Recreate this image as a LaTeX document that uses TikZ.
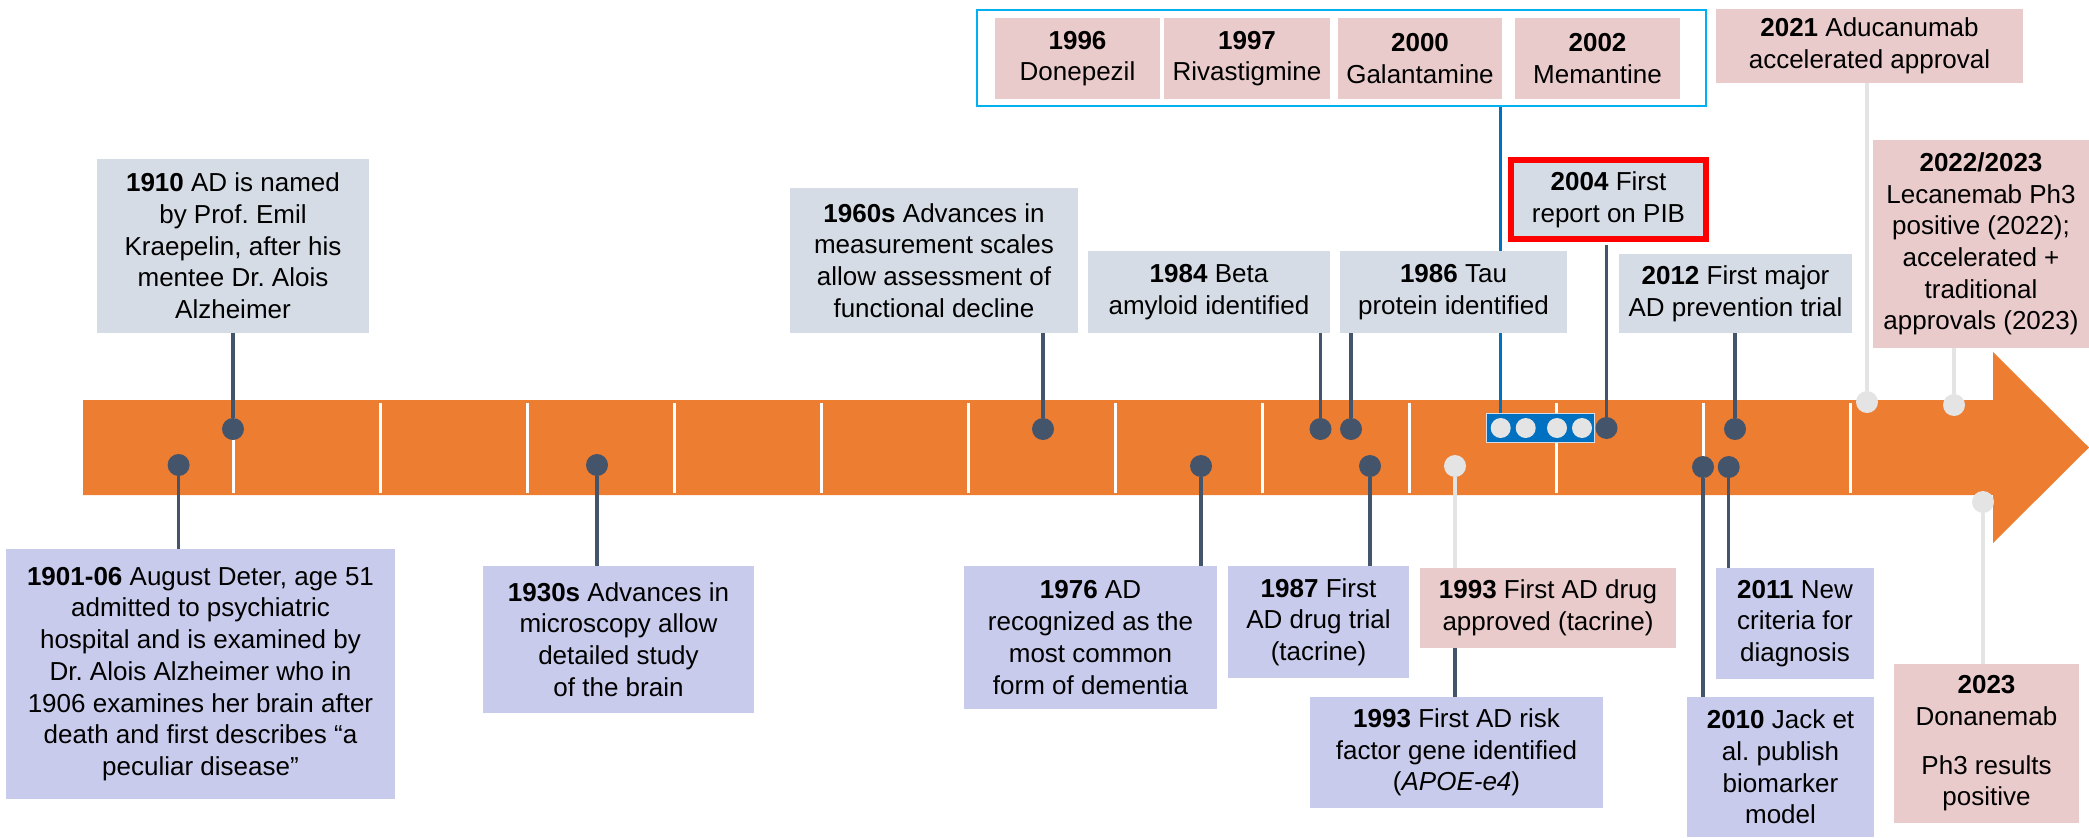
\documentclass[tikz,border=0pt]{standalone}
\usepackage{fontspec}
\setmainfont{Liberation Sans}
\usepackage{tikz}
\frenchspacing

\definecolor{barorange}{HTML}{ED7D31}
\definecolor{slate}{HTML}{44546A}
\definecolor{greyfill}{HTML}{D6DCE5}
\definecolor{lavfill}{HTML}{C8CBEB}
\definecolor{pinkfill}{HTML}{EACBCB}
\definecolor{faint}{HTML}{E4E4E4}
\definecolor{drugblue}{HTML}{0070C0}
\definecolor{framecyan}{HTML}{00B0F0}

\begin{document}
\begin{tikzpicture}[x=1pt, y=-1pt,
  every node/.style={font=\fontsize{26}{31.7}\selectfont, inner sep=0pt, align=center},
  greybox/.style={rectangle, fill=greyfill},
  lavbox/.style={rectangle, fill=lavfill},
  pinkbox/.style={rectangle, fill=pinkfill},
  dot/.style={circle, fill=slate, minimum size=22},
  faintdot/.style={circle, fill=faint, minimum size=22},
  stem/.style={slate, line width=3.3},
  faintstem/.style={faint, line width=3.5}]
\useasboundingbox (0,0) rectangle (2089,838);

% timeline arrow
\fill[barorange] (83,400) -- (1993,400) -- (1993,352) -- (2089,447.5) -- (1993,543) -- (1993,495) -- (83,495) -- cycle;
\foreach \i in {0,...,11} {
  \draw[white, line width=3] ({233+147*\i},403) -- ({233+147*\i},493);
}

% approved drugs group
\node[draw=framecyan, line width=2.5, minimum width=729, minimum height=96] (drugframe) at (1341.5,58) {};
\node[pinkbox, minimum width=165, minimum height=81] (b1996) at (1077.5,58.5) {\textbf{1996}\\Donepezil};
\node[pinkbox, minimum width=166, minimum height=81] (b1997) at (1247,58.5) {\textbf{1997}\\Rivastigmine};
\node[pinkbox, minimum width=164, minimum height=81] (b2000) at (1420,58.5) {\textbf{2000}\\Galantamine};
\node[pinkbox, minimum width=165, minimum height=81] (b2002) at (1597.5,58.5) {\textbf{2002}\\Memantine};
\node[draw=greyfill, fill=drugblue, line width=1.5, minimum width=108, minimum height=29] (drugstrip) at (1540.5,428) {};
\foreach \name/\x in {pc1/1500.7,pc2/1525.7,pc3/1557,pc4/1582} {
  \node[circle, fill=faint, minimum size=20] (\name) at (\x,428) {};
}
\draw[drugblue, line width=3] (drugframe.south -| pc1) -- (drugstrip.north -| pc1);

% dots on the bar
\foreach \name/\x/\y in {d1901/178.6/465,d1910/233/429,d1930/597/465,d1960/1043/429,d1976/1201/466,d1984/1320.5/429,d1986/1351/429,d1987/1370/466,d2004/1606.5/428,d2010/1703/467,d2011/1728.7/467,d2012/1735/429} {
  \node[dot] (\name) at (\x,\y) {};
}
\foreach \name/\x/\y in {d1993/1455/466,d2021/1867/402,d2022/1954/405,d2023/1983/502} {
  \node[faintdot] (\name) at (\x,\y) {};
}

% events
\node[lavbox, minimum width=389, minimum height=250] (b1901) at (200.5,674) {\textbf{1901-06} August Deter, age 51\\admitted to psychiatric\\hospital and is examined by\\Dr. Alois Alzheimer who in\\1906 examines her brain after\\death and first describes “a\\peculiar disease”};
\node[greybox, minimum width=272, minimum height=174] (b1910) at (233,246) {\textbf{1910} AD is named\\by Prof. Emil\\Kraepelin, after his\\mentee Dr. Alois\\Alzheimer};
\node[lavbox, minimum width=271, minimum height=147] (b1930) at (618.5,639.5) {\textbf{1930s} Advances in\\microscopy allow\\detailed study\\of the brain};
\node[greybox, minimum width=288, minimum height=145] (b1960) at (934,260.5) {\textbf{1960s} Advances in\\measurement scales\\allow assessment of\\functional decline};
\node[lavbox, minimum width=253, minimum height=143] (b1976) at (1090.5,637.5) {\textbf{1976} AD\\recognized as the\\most common\\form of dementia};
\node[greybox, minimum width=242, minimum height=82] (b1984) at (1209,292) {\textbf{1984} Beta\\amyloid identified};
\node[greybox, minimum width=227, minimum height=82] (b1986) at (1453.5,292) {\textbf{1986} Tau\\protein identified};
\node[lavbox, minimum width=181, minimum height=112] (b1987) at (1318.5,622) {\textbf{1987} First\\AD drug trial\\(tacrine)};
\node[pinkbox, minimum width=256, minimum height=80] (b1993a) at (1548,608) {\textbf{1993} First AD drug\\approved (tacrine)};
\node[lavbox, minimum width=293, minimum height=111] (b1993g) at (1456.5,752.5) {\textbf{1993} First AD risk\\factor gene identified\\(\textit{APOE-e4})};
\node[greybox, draw=red, line width=6, minimum width=195, minimum height=79] (b2004) at (1608.5,199.5) {\textbf{2004} First\\report on PIB};
\node[lavbox, minimum width=187, minimum height=140] (b2010) at (1780.5,767) {\textbf{2010} Jack et\\al. publish\\biomarker\\model};
\node[lavbox, minimum width=158, minimum height=111] (b2011) at (1795,623.5) {\textbf{2011} New\\criteria for\\diagnosis};
\node[greybox, minimum width=233, minimum height=79] (b2012) at (1735.5,293.5) {\textbf{2012} First major\\AD prevention trial};
\node[pinkbox, minimum width=307, minimum height=74] (b2021) at (1869.5,46) {\textbf{2021} Aducanumab\\accelerated approval};
\node[pinkbox, minimum width=216, minimum height=208] (b2022) at (1981,244) {\textbf{2022/2023}\\Lecanemab Ph3\\positive (2022);\\accelerated +\\traditional\\approvals (2023)};
\node[pinkbox, minimum width=185, minimum height=159] (b2023) at (1986.5,743.5) {\textbf{2023}\\Donanemab\\[17pt]Ph3 results\\positive};

% stems
\foreach \d/\b/\a in {d1901/b1901/north,d1910/b1910/south,d1930/b1930/north,d1960/b1960/south,d1976/b1976/north,d1984/b1984/south,d1986/b1986/south,d1987/b1987/north,d2010/b2010/north,d2011/b2011/north,d2012/b2012/south} {
  \draw[stem] (\d) -- (\d |- \b.\a);
}
\draw[stem, shorten <=3] (d2004 |- b2004.south) -- (d2004);
\draw[stem] (b1993a.south -| d1993) -- (b1993g.north -| d1993);
\foreach \d/\b/\a in {d1993/b1993a/north,d2021/b2021/south,d2022/b2022/south,d2023/b2023/north} {
  \draw[faintstem] (\d) -- (\d |- \b.\a);
}
\end{tikzpicture}
\end{document}
